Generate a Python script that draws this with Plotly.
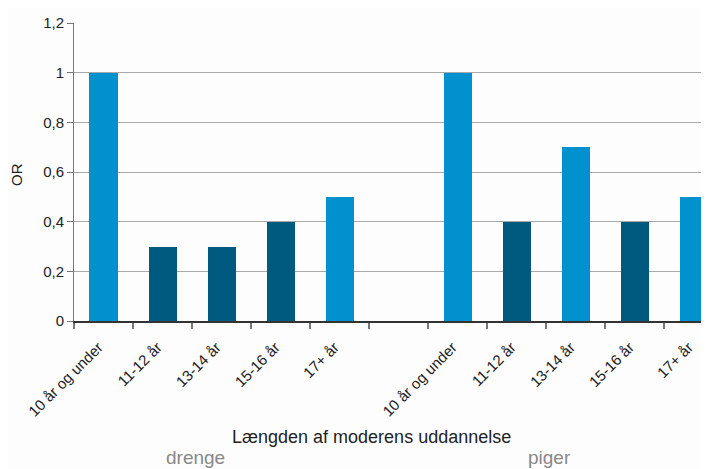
import plotly.graph_objects as go

categories = ["10 år og under", "11-12 år", "13-14 år", "15-16 år", "17+ år"]
groups = ["drenge", "piger"]
drenge_values = [1.0, 0.3, 0.3, 0.4, 0.5]
piger_values = [1.0, 0.4, 0.7, 0.4, 0.5]
drenge_shade = ["light", "dark", "dark", "dark", "light"]
piger_shade = ["light", "dark", "light", "dark", "light"]
y_ticks = [0, 0.2, 0.4, 0.6, 0.8, 1.0, 1.2]
y_ticktext = ["0", "0,2", "0,4", "0,6", "0,8", "1", "1,2"]
x_title = "Længden af moderens uddannelse"
y_title = "OR"

LIGHT = "#0091ce"
DARK = "#005a80"
cmap = {"light": LIGHT, "dark": DARK}

# positions: group 1 slots 0-4, empty slot 5, group 2 slots 6-10
xpos = list(range(5)) + list(range(6, 11))
vals = drenge_values + piger_values
cols = [cmap[s] for s in drenge_shade + piger_shade]
labels = categories + categories

fig = go.Figure()
fig.add_trace(go.Bar(x=xpos, y=vals, marker=dict(color=cols, line=dict(width=0)),
                     width=0.475, showlegend=False, hoverinfo="skip"))

# page has an 8px body margin: figure is drawn at (8, 8)
font = "Liberation Sans, Arial, sans-serif"
fig.update_layout(
    width=701, height=461,
    margin=dict(l=66, r=0, t=15, b=148),
    paper_bgcolor="#fdfdfd", plot_bgcolor="#fdfdfd",
    font=dict(family=font, size=15, color="#222"),
    bargap=0,
    xaxis=dict(
        range=[-0.5, 10.26], tickmode="array", tickvals=xpos, ticktext=labels,
        tickangle=-45, ticks="", showgrid=False, zeroline=False, automargin=False,
        showline=True, linecolor="#333", linewidth=1.5,
        tickfont=dict(size=15, color="#222"),
        ticklabelstandoff=10, ticklabelshift=-5,
        minor=dict(tickmode="array", tickvals=[i - 0.5 for i in range(11)],
                   ticks="outside", ticklen=6, tickwidth=1.5, tickcolor="#777",
                   showgrid=False),
    ),
    yaxis=dict(
        range=[0, 1.2], tickmode="array", tickvals=y_ticks, ticktext=y_ticktext,
        showgrid=True, gridcolor="#a8a8a8", gridwidth=1, zeroline=False, automargin=False,
        showline=True, linecolor="#777", linewidth=1,
        ticks="outside", ticklen=6, tickcolor="#777",
        tickfont=dict(size=15, color="#222"),
    ),
)

# axis titles as annotations (plot area spans page x 74..709, y 23..321)
fig.add_annotation(x=(371 - 74) / 635, xref="paper", y=-(437 - 321) / 298, yref="paper",
                   text=x_title, showarrow=False, font=dict(size=18, color="#222"),
                   xanchor="center", yanchor="middle")
fig.add_annotation(x=-(74 - 17) / 635, xref="paper", y=(321 - 175) / 298, yref="paper",
                   text=y_title, showarrow=False, textangle=-90,
                   font=dict(size=15, color="#222"), xanchor="center", yanchor="middle")

for gname, px in zip(groups, [195, 549]):
    fig.add_annotation(x=(px - 74) / 635, xref="paper", y=-(457 - 321) / 298, yref="paper",
                       text=gname, showarrow=False, font=dict(size=19, color="#888"),
                       xanchor="center", yanchor="middle")

fig.write_html("out.html")
